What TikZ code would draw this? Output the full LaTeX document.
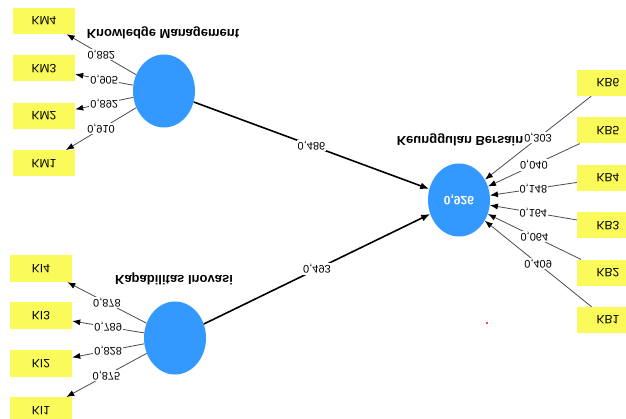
\documentclass[tikz,border=0pt]{standalone}
\usepackage{fontspec}
\setmainfont{Liberation Sans}
\usepackage{graphicx}
\usetikzlibrary{shapes.geometric, arrows.meta, positioning}
\definecolor{lvblue}{HTML}{3399FF}
\definecolor{mvyellow}{HTML}{FAFA5A}
\newcommand{\upside}[1]{\scalebox{1}[-1]{#1}}
\tikzset{
  indicator/.style={rectangle, fill=mvyellow, minimum width=62pt, minimum height=26pt, inner sep=0pt, font=\fontsize{12}{13}\selectfont},
  latent/.style={ellipse, fill=lvblue, minimum width=62pt, minimum height=73pt, inner sep=0pt, text=white, font=\bfseries\fontsize{12}{13}\selectfont},
  lvname/.style={inner sep=0pt, font=\bfseries\fontsize{13}{14}\selectfont},
  weight/.style={fill=white, inner sep=1pt, font=\fontsize{11}{12}\selectfont},
  loadarrow/.style={-{Latex[length=8pt, width=6pt, black]}, draw=black!70, line width=0.8pt},
  patharrow/.style={-{Latex[length=9pt, width=7pt]}, line width=1.6pt},
}

\begin{document}
\begin{tikzpicture}[x=1pt, y=-1pt]
    \useasboundingbox (0,0) rectangle (626,419);
    % latent variables
    \node[latent] (km) at (164,91) {};
    \node[latent] (ki) at (175,338) {};
    \node[latent] (kb) at (459,200) {\upside{0,926}};
    \node[lvname] (kmname) at (163,33) {\upside{Knowledge Management}};
    \node[lvname] (kiname) at (174,279) {\upside{Kapabilitas Inovasi}};
    \node[lvname] (kbname) at (464,140) {\upside{Keunggulan Bersaing}};
    % indicators
    \node[indicator] (km4) at (44,21) {\upside{KM4}};
    \node[indicator, below=21pt of km4] (km3) {\upside{KM3}};
    \node[indicator, below=21pt of km3] (km2) {\upside{KM2}};
    \node[indicator, below=21pt of km2] (km1) {\upside{KM1}};
    \node[indicator, minimum height=27pt] (ki4) at (41,268.5) {\upside{KI4}};
    \node[indicator, minimum height=27pt, below=20pt of ki4] (ki3) {\upside{KI3}};
    \node[indicator, minimum height=27pt, below=20pt of ki3] (ki2) {\upside{KI2}};
    \node[indicator, minimum height=27pt, below=20pt of ki2] (ki1) {\upside{KI1}};
    \node[indicator] (kb6) at (608,83) {\upside{KB6}};
    \node[indicator, below=21pt of kb6] (kb5) {\upside{KB5}};
    \node[indicator, below=21pt of kb5] (kb4) {\upside{KB4}};
    \node[indicator, below=21pt of kb4] (kb3) {\upside{KB3}};
    \node[indicator, below=21pt of kb3] (kb2) {\upside{KB2}};
    \node[indicator, below=21pt of kb2] (kb1) {\upside{KB1}};
    % outer loadings
    \draw[loadarrow] (km) -- (km4) node[weight, midway] {\upside{0,882}};
    \draw[loadarrow] (km) -- (km3) node[weight, midway] {\upside{0,905}};
    \draw[loadarrow] (km) -- (km2) node[weight, midway] {\upside{0,892}};
    \draw[loadarrow] (km) -- (km1) node[weight, midway] {\upside{0,910}};
    \draw[loadarrow] (ki) -- (ki4) node[weight, midway] {\upside{0,878}};
    \draw[loadarrow] (ki) -- (ki3) node[weight, midway] {\upside{0,789}};
    \draw[loadarrow] (ki) -- (ki2) node[weight, midway] {\upside{0,828}};
    \draw[loadarrow] (ki) -- (ki1) node[weight, midway] {\upside{0,875}};
    \draw[loadarrow] (kb6) -- (kb) node[weight, midway] {\upside{0,303}};
    \draw[loadarrow] (kb5) -- (kb) node[weight, midway] {\upside{0,040}};
    \draw[loadarrow] (kb4) -- (kb) node[weight, midway] {\upside{0,148}};
    \draw[loadarrow] (kb3) -- (kb) node[weight, midway] {\upside{0,164}};
    \draw[loadarrow] (kb2) -- (kb) node[weight, midway] {\upside{0,064}};
    \draw[loadarrow] (kb1) -- (kb) node[weight, midway] {\upside{0,409}};
    % path coefficients
    \draw[patharrow] (km) -- (kb) node[weight, midway] {\upside{0,486}};
    \draw[patharrow] (ki) -- (kb) node[weight, midway] {\upside{0,493}};
    \fill[red] (487,323) circle (1.2pt);
\end{tikzpicture}
\end{document}
